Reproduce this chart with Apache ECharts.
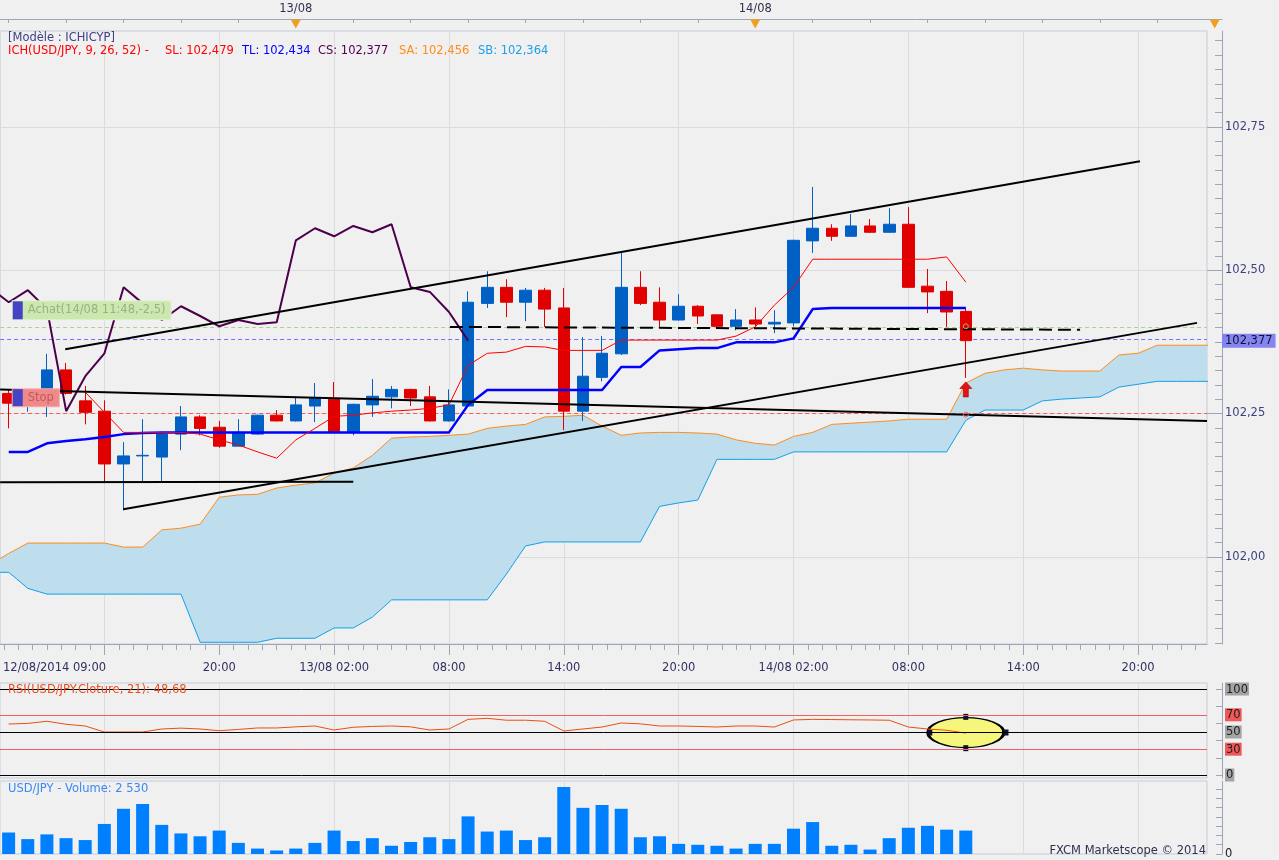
<!DOCTYPE html>
<html>
<head>
<meta charset="utf-8">
<title>USD/JPY Ichimoku</title>
<script src="https://cdn.jsdelivr.net/npm/echarts@6.0.0/dist/echarts.min.js"></script>
<style>
html, body { margin:0; padding:0; background:#f0f0f0; }
#chart { width:1279px; height:860px; }
</style>
</head>
<body>
<div id="chart"></div>
<script>
// ================= DATA =================
// hourly candles, index 0 = 12/08/2014 09:00
const candleOpen = [102.285,102.268,102.285,102.326,102.272,102.254,102.162,102.176,102.174,102.214,
 102.244,102.226,102.193,102.214,102.247,102.237,102.263,102.275,102.217,102.265,
 102.279,102.292,102.279,102.237,102.263,102.442,102.470,102.444,102.465,102.434,
 102.254,102.313,102.354,102.470,102.444,102.413,102.437,102.422,102.402,102.413,
 102.406,102.408,102.551,102.573,102.559,102.577,102.566,102.580,102.472,102.463,
 102.428];
const candleClose = [102.268,102.283,102.326,102.285,102.252,102.162,102.176,102.177,102.214,102.244,
 102.224,102.193,102.217,102.247,102.237,102.265,102.277,102.217,102.266,102.280,
 102.292,102.277,102.237,102.265,102.444,102.470,102.444,102.465,102.432,102.254,
 102.315,102.355,102.470,102.442,102.413,102.437,102.420,102.402,102.413,102.406,
 102.409,102.552,102.573,102.559,102.577,102.566,102.580,102.470,102.462,102.427,
 102.377];
const candleLow = [102.224,102.253,102.244,102.283,102.231,102.132,102.081,102.132,102.132,102.186,
 102.212,102.190,102.193,102.213,102.236,102.236,102.235,102.216,102.212,102.244,
 102.259,102.263,102.236,102.236,102.262,102.434,102.418,102.411,102.401,102.221,
 102.237,102.306,102.352,102.439,102.401,102.412,102.406,102.401,102.395,102.402,
 102.390,102.402,102.530,102.551,102.558,102.565,102.565,102.469,102.425,102.401,
 102.312];
const candleHigh = [102.291,102.290,102.354,102.338,102.298,102.273,102.200,102.240,102.216,102.263,
 102.247,102.237,102.240,102.248,102.256,102.280,102.303,102.305,102.267,102.310,
 102.298,102.293,102.298,102.292,102.463,102.498,102.484,102.469,102.469,102.469,
 102.383,102.385,102.531,102.498,102.470,102.458,102.439,102.423,102.432,102.435,
 102.430,102.553,102.645,102.580,102.598,102.589,102.608,102.610,102.502,102.481,
 102.435];

// Tenkan (SL), starts at candle index 4
const tenkanStart = 4;
const tenkan = [102.287,102.252,102.217,102.217,102.217,102.217,102.214,102.204,102.195,102.183,
 102.172,102.204,102.224,102.245,102.247,102.251,102.254,102.256,102.259,102.265,
 102.334,102.355,102.357,102.367,102.366,102.360,102.360,102.360,102.378,102.378,
 102.378,102.378,102.378,102.378,102.385,102.401,102.439,102.470,102.519,102.519,
 102.519,102.519,102.519,102.519,102.519,102.523,102.479];

// Kijun (TL)
const kijun = [102.183,102.183,102.198,102.202,102.205,102.209,102.214,102.216,102.217,102.217,
 102.217,102.217,102.217,102.217,102.217,102.217,102.217,102.217,102.217,102.217,
 102.217,102.217,102.217,102.217,102.265,102.291,102.291,102.291,102.291,102.291,
 102.291,102.291,102.331,102.331,102.360,102.362,102.364,102.364,102.374,102.374,
 102.374,102.381,102.432,102.434,102.434,102.434,102.434,102.434,102.434,102.434,
 102.434];

// Chikou (CS) = close plotted 26 periods back
const chikouShift = 26;

// Senkou spans, index -1 .. 63
const cloudStart = -1;
const senkouA = [101.986,102.006,102.024,102.024,102.024,102.024,102.024,102.017,102.017,102.047,
 102.050,102.057,102.104,102.108,102.109,102.120,102.125,102.129,102.146,102.155,
 102.177,102.207,102.209,102.210,102.212,102.214,102.224,102.228,102.231,102.244,
 102.245,102.247,102.228,102.212,102.216,102.217,102.217,102.216,102.214,102.204,
 102.198,102.195,102.210,102.217,102.231,102.233,102.235,102.237,102.240,102.240,
 102.240,102.303,102.320,102.326,102.329,102.326,102.324,102.324,102.324,102.352,
 102.355,102.369,102.369,102.369,102.369];
const senkouB = [101.973,101.973,101.945,101.935,101.935,101.935,101.935,101.935,101.935,101.935,
 101.935,101.851,101.851,101.851,101.851,101.858,101.858,101.858,101.876,101.876,
 101.895,101.925,101.925,101.925,101.925,101.925,101.925,101.970,102.019,102.026,
 102.026,102.026,102.026,102.026,102.026,102.088,102.094,102.099,102.170,102.170,
 102.170,102.170,102.183,102.183,102.183,102.183,102.183,102.183,102.183,102.183,
 102.183,102.238,102.256,102.256,102.256,102.272,102.275,102.277,102.279,102.296,
 102.301,102.306,102.306,102.306,102.306];

// RSI(21)
const rsi = [59.3,60,62.5,59,57,50,50,50,53.5,54.5,
 53.5,51.5,53,54.7,54.7,56,57,52.3,55.5,56.5,
 57,56,52.3,53.5,64.7,65.9,63.7,63.7,62.5,51.2,
 53.5,55.8,60.5,59.5,57,57,56.5,55.8,57,57,
 55.8,64,64.7,64.5,64.2,64,63.7,55.8,53.5,52,
 48.68];

// Volume
const volume = [2320,1610,2120,1710,1505,3245,4885,5400,3145,2220,
 1915,2530,1200,585,380,585,1200,2530,1400,1710,
 890,1300,1810,1610,4065,2425,2530,1505,1810,7240,
 4985,5295,4885,1810,1915,1095,995,890,585,1095,
 1095,2735,3450,890,995,480,1710,2835,3040,2630,
 2530];

// drawn levels and trend lines [candle index, price]
const buyLevel = 102.402;
const priceLevel = 102.377;
const stopLevel = 102.248;
const upperChannel = [[2.95, 102.362], [59.1, 102.690]];
const lowerChannel = [[5.98, 102.083], [62.08, 102.408]];
const decliningLine = [[-0.45, 102.292], [62.6, 102.237]];
const supportLine = [[-0.45, 102.130], [18.0, 102.131]];
const dashedLine = [[23.05, 102.401], [55.97, 102.396]];
const arrowPoint = [50, 102.292];
const ellipsePoint = [50, 49.4];

// tick labels
const priceTicks = [102.00, 102.25, 102.50, 102.75];
const timeTickIdx = [5, 11, 17, 23, 29, 35, 41, 47, 53, 59];
const timeLabelIdx = [11, 17, 23, 29, 35, 41, 47, 53, 59];
const timeLabels = ['20:00', '13/08 02:00', '08:00', '14:00', '20:00', '14/08 02:00', '08:00', '14:00', '20:00'];
const firstTimeLabel = '12/08/2014 09:00';
const dayLabelIdx = [15, 39];
const dayLabels = ['13/08', '14/08'];
const dayMarkIdx = [15, 39, 63];
const rsiLevels = [0, 30, 50, 70, 100];

// ================= CHART =================
const FONT = 'DejaVu Sans';
const X_MIN = -0.45, X_MAX = 62.6;
const X_MAX_TOP = X_MIN + 1222 * (X_MAX - X_MIN) / 1207;
const AX = '#9ca8ba';
const GRIDC = '#dcdcdc';

const idx = candleOpen.map((_, i) => i);
const candleData = idx.map(i => [i, candleOpen[i], candleClose[i], candleLow[i], candleHigh[i]]);
const tenkanData = tenkan.map((v, k) => [tenkanStart + k, v]);
const kijunData = kijun.map((v, i) => [i, v]);
const chikouData = [];
for (let i = 0; i < candleClose.length; i++) {
  if (i - chikouShift >= -1) chikouData.push([i - chikouShift, candleClose[i]]);
}
const cloudIdx = senkouA.map((_, k) => cloudStart + k);
const saData = senkouA.map((v, k) => [cloudIdx[k], v]);
const sbData = senkouB.map((v, k) => [cloudIdx[k], v]);
const rsiData = rsi.map((v, i) => [i, v]);
const volData = volume.map((v, i) => [i, v]);

const minorTime = [];
for (let v = 5 - 0.75 * 7; v <= X_MAX; v += 0.75) minorTime.push(+v.toFixed(2));
const minorPrice = [];
for (let k = 0; k <= 43; k++) minorPrice.push(+(101.85 + 0.025 * k).toFixed(3));
const topTicks = [];
for (let v = 0; v <= X_MAX_TOP; v += 3) topTicks.push(v);

const chart = echarts.init(document.getElementById('chart'));

function ttl(text, left, top, color, extra) {
  return Object.assign({ text, left, top, padding: 0,
    textStyle: { color, fontSize: 11.5, fontWeight: 'normal', fontFamily: FONT } }, extra || {});
}

const hidden = { show: false };
const noLine = { show: false, onZero: false };

const option = {
  animation: false,
  backgroundColor: '#f0f0f0',
  textStyle: { fontFamily: FONT },
  title: [
    ttl('[Modèle : ICHICYP]', 8, 32, '#404088'),
    ttl('ICH(USD/JPY, 9, 26, 52) -', 8, 45, '#ff0000'),
    ttl('SL: 102,479', 165, 45, '#ff0000'),
    ttl('TL: 102,434', 242, 45, '#0000ff'),
    ttl('CS: 102,377', 318, 45, '#500050'),
    ttl('SA: 102,456', 399, 45, '#ff8c1a'),
    ttl('SB: 102,364', 478, 45, '#1ea0e6'),
    ttl('RSI(USD/JPY.Cloture, 21): 48,68', 8, 684, '#e85020'),
    ttl('USD/JPY - Volume: 2 530', 8, 783, '#3a88f0'),
    { text: 'FXCM Marketscope © 2014', right: 73, top: 845, padding: 0,
      textStyle: { color: '#303050', fontSize: 11.5, fontWeight: 'normal', fontFamily: FONT } }
  ],
  grid: [
    { left: 0, top: 31, width: 1207, height: 613, show: true, backgroundColor: '#f0f0f0', borderColor: '#c4cdd9', borderWidth: 1 },
    { left: 0, top: 19, width: 1222, height: 12, show: false },
    { left: 0, top: 683, width: 1207, height: 95, show: true, backgroundColor: '#f0f0f0', borderColor: '#c4cdd9', borderWidth: 1 },
    { left: 0, top: 781, width: 1207, height: 77, show: true, backgroundColor: '#f0f0f0', borderColor: '#c4cdd9', borderWidth: 1 }
  ],
  xAxis: [
    { // 0 main time axis
      type: 'value', gridIndex: 0, min: X_MIN, max: X_MAX, position: 'bottom',
      axisLine: { show: true, onZero: false, lineStyle: { color: AX } },
      axisTick: { show: true, customValues: timeTickIdx, length: 11, lineStyle: { color: AX } },
      axisLabel: { show: true, customValues: timeLabelIdx, margin: 18, color: '#303060', fontSize: 11.5, fontFamily: FONT,
        formatter: v => timeLabels[timeLabelIdx.indexOf(Math.round(v))] || '' },
      splitLine: { show: true, lineStyle: { color: GRIDC, width: 1 } }
    },
    { // 1 minor ticks
      type: 'value', gridIndex: 0, min: X_MIN, max: X_MAX, position: 'bottom',
      axisLine: noLine,
      axisTick: { show: true, customValues: minorTime, length: 6, lineStyle: { color: AX } },
      axisLabel: hidden, splitLine: hidden
    },
    { // 2 first label
      type: 'value', gridIndex: 0, min: X_MIN, max: X_MAX, position: 'bottom',
      axisLine: noLine, axisTick: hidden,
      axisLabel: { show: true, customValues: [-0.3], align: 'left', margin: 18, color: '#303060', fontSize: 11.5, fontFamily: FONT,
        formatter: () => firstTimeLabel },
      splitLine: hidden
    },
    { // 3 top day strip
      type: 'value', gridIndex: 1, min: X_MIN, max: X_MAX_TOP, position: 'top',
      axisLine: { show: true, onZero: false, lineStyle: { color: AX } },
      axisTick: { show: true, inside: true, customValues: topTicks, length: 4, lineStyle: { color: AX } },
      axisLabel: { show: true, customValues: dayLabelIdx, margin: 4, color: '#303050', fontSize: 11.5, fontFamily: FONT,
        formatter: v => dayLabels[dayLabelIdx.indexOf(Math.round(v))] || '' },
      splitLine: hidden
    },
    { // 4 RSI
      type: 'value', gridIndex: 2, min: X_MIN, max: X_MAX,
      axisLine: noLine, axisTick: { show: false, customValues: timeTickIdx }, axisLabel: hidden,
      splitLine: { show: true, lineStyle: { color: GRIDC } }
    },
    { // 5 volume
      type: 'value', gridIndex: 3, min: X_MIN, max: X_MAX,
      axisLine: noLine, axisTick: { show: false, customValues: timeTickIdx }, axisLabel: hidden,
      splitLine: { show: true, lineStyle: { color: GRIDC } }
    }
  ],
  yAxis: [
    { // 0 price
      type: 'value', gridIndex: 0, min: 101.848, max: 102.917, position: 'right', offset: 15,
      axisLine: { show: true, onZero: false, lineStyle: { color: AX } },
      axisTick: { show: true, inside: true, length: 15, customValues: priceTicks, lineStyle: { color: AX } },
      axisLabel: { show: true, customValues: priceTicks, margin: 3, color: '#404080', fontSize: 11.5, fontFamily: FONT,
        formatter: v => v.toFixed(2).replace('.', ',') },
      splitLine: { show: true, lineStyle: { color: GRIDC } }
    },
    { // 1 minor price ticks
      type: 'value', gridIndex: 0, min: 101.848, max: 102.917, position: 'right', offset: 15,
      axisLine: noLine,
      axisTick: { show: true, inside: true, length: 7, customValues: minorPrice, lineStyle: { color: AX } },
      axisLabel: hidden, splitLine: hidden
    },
    { // 2 current price tag
      type: 'value', gridIndex: 0, min: 101.848, max: 102.917, position: 'right', offset: 15,
      axisLine: noLine, axisTick: hidden,
      axisLabel: { show: true, customValues: [priceLevel], margin: 0, color: '#101030', fontSize: 11.5, fontFamily: FONT,
        backgroundColor: '#8585f2', padding: [1, 3, 1, 3],
        formatter: v => v.toFixed(3).replace('.', ',') },
      splitLine: hidden
    },
    { // 3 top strip
      type: 'value', gridIndex: 1, min: 0, max: 1, show: false, axisLine: noLine
    },
    { // 4 RSI
      type: 'value', gridIndex: 2, min: -3.5, max: 107, position: 'right', offset: 15,
      axisLine: { show: true, onZero: false, lineStyle: { color: AX } },
      axisTick: { show: true, inside: true, length: 6, customValues: [0, 20, 40, 60, 80, 100], lineStyle: { color: AX } },
      axisLabel: { show: true, customValues: rsiLevels, margin: 3, color: '#202020', fontSize: 11.5, fontFamily: FONT,
        formatter: v => (v === 30 || v === 70) ? '{r|' + v + '}' : '{g|' + v + '}',
        rich: {
          r: { backgroundColor: '#f05858', padding: [1, 1, 0, 1], color: '#202020', fontSize: 11.5, fontFamily: FONT },
          g: { backgroundColor: '#a4a4a4', padding: [1, 1, 0, 1], color: '#202020', fontSize: 11.5, fontFamily: FONT }
        } },
      splitLine: hidden
    },
    { // 5 volume
      type: 'value', gridIndex: 3, min: 0, max: 7885, position: 'right', offset: 15,
      axisLine: { show: true, onZero: false, lineStyle: { color: AX } },
      axisTick: { show: true, inside: true, length: 6, customValues: [0, 1000, 2000, 3000, 4000, 5000, 6000, 7000], lineStyle: { color: AX } },
      axisLabel: { show: true, customValues: [0], margin: 3, color: '#202020', fontSize: 11.5, fontFamily: FONT },
      splitLine: hidden
    }
  ],
  series: [
    { // Kumo fill
      type: 'custom', xAxisIndex: 0, yAxisIndex: 0, z: 1, silent: true,
      data: [[0, 102.2]],
      renderItem: function (params, api) {
        const pts = [];
        for (let k = 0; k < cloudIdx.length; k++) pts.push(api.coord([cloudIdx[k], senkouA[k]]));
        for (let k = cloudIdx.length - 1; k >= 0; k--) pts.push(api.coord([cloudIdx[k], senkouB[k]]));
        const cs = params.coordSys;
        return { type: 'polygon', shape: { points: pts }, style: { fill: '#bedded' },
          clipPath: { type: 'rect', shape: { x: cs.x, y: cs.y, width: cs.width, height: cs.height } } };
      }
    },
    { name: 'SA', type: 'line', xAxisIndex: 0, yAxisIndex: 0, z: 2, data: saData, symbol: 'none', silent: true,
      lineStyle: { color: '#ff8c1a', width: 1 } },
    { name: 'SB', type: 'line', xAxisIndex: 0, yAxisIndex: 0, z: 2, data: sbData, symbol: 'none', silent: true,
      lineStyle: { color: '#12a0e8', width: 1 } },
    { name: 'USD/JPY', type: 'candlestick', xAxisIndex: 0, yAxisIndex: 0, z: 3, data: candleData, barWidth: 12, silent: true,
      itemStyle: { color: '#0060c4', color0: '#e00000', borderColor: '#0060c4', borderColor0: '#e00000', borderColorDoji: '#0060c4', borderWidth: 1 },
      markLine: { symbol: ['none', 'none'], silent: true, label: { show: false }, z: 3,
        data: [
          { yAxis: buyLevel, lineStyle: { color: '#a8d48a', type: [4, 3], width: 1 } },
          { yAxis: priceLevel, lineStyle: { color: '#7272ff', type: [4, 3], width: 1 } },
          { yAxis: stopLevel, lineStyle: { color: '#ff5a5a', type: [4, 3], width: 1 } }
        ] } },
    { name: 'TL', type: 'line', xAxisIndex: 0, yAxisIndex: 0, z: 4, data: kijunData, symbol: 'none', silent: true,
      lineStyle: { color: '#0000ff', width: 2.5 } },
    { name: 'SL', type: 'line', xAxisIndex: 0, yAxisIndex: 0, z: 4, data: tenkanData, symbol: 'none', silent: true,
      lineStyle: { color: '#ff0000', width: 1 } },
    { name: 'CS', type: 'line', xAxisIndex: 0, yAxisIndex: 0, z: 4, data: chikouData, symbol: 'none', silent: true,
      lineStyle: { color: '#4c004c', width: 2 } },
    { type: 'line', xAxisIndex: 0, yAxisIndex: 0, z: 5, data: upperChannel, symbol: 'none', silent: true, lineStyle: { color: '#000', width: 2 } },
    { type: 'line', xAxisIndex: 0, yAxisIndex: 0, z: 5, data: lowerChannel, symbol: 'none', silent: true, lineStyle: { color: '#000', width: 2 } },
    { type: 'line', xAxisIndex: 0, yAxisIndex: 0, z: 5, data: decliningLine, symbol: 'none', silent: true, lineStyle: { color: '#000', width: 2 } },
    { type: 'line', xAxisIndex: 0, yAxisIndex: 0, z: 5, data: supportLine, symbol: 'none', silent: true, lineStyle: { color: '#000', width: 2 } },
    { type: 'line', xAxisIndex: 0, yAxisIndex: 0, z: 5, data: dashedLine, symbol: 'none', silent: true, lineStyle: { color: '#000', width: 2, type: [13, 6] } },
    { // buy label
      type: 'scatter', xAxisIndex: 0, yAxisIndex: 0, z: 6, silent: true, symbolSize: 0,
      data: [[0, buyLevel]],
      itemStyle: { opacity: 1 },
      label: { show: true, position: 'right', distance: 0, offset: [4, -16], opacity: 1,
        formatter: '{sq|}{t|Achat(14/08 11:48,-2,5)}',
        backgroundColor: '#cde8ae', borderColor: '#e2f2d2', borderWidth: 1, padding: 0,
        rich: { sq: { width: 10, height: 18, backgroundColor: '#4444c4' },
          t: { color: '#98b282', fontSize: 11.5, fontFamily: FONT, padding: [0, 5, 0, 5], height: 18, lineHeight: 18 } } }
    },
    { // stop label
      type: 'scatter', xAxisIndex: 0, yAxisIndex: 0, z: 6, silent: true, symbolSize: 0,
      data: [[0, stopLevel]],
      itemStyle: { opacity: 1 },
      label: { show: true, position: 'right', distance: 0, offset: [4, -17], opacity: 1,
        formatter: '{sq|}{t|Stop}',
        backgroundColor: '#f08a8a', borderColor: '#f4b0b0', borderWidth: 1, padding: 0,
        rich: { sq: { width: 10, height: 17, backgroundColor: '#4444c4' },
          t: { color: '#c05a5a', fontSize: 11.5, fontFamily: FONT, padding: [0, 5, 0, 5], height: 17, lineHeight: 17 } } }
    },
    { // arrow
      type: 'scatter', xAxisIndex: 0, yAxisIndex: 0, z: 6, silent: true,
      data: [arrowPoint],
      symbol: 'path://M6,0L12,7L8.5,7L8.5,16L3.5,16L3.5,7L0,7Z', symbolSize: [12, 15],
      itemStyle: { color: '#e41414', borderColor: '#a00000', borderWidth: 0.6, opacity: 1 }
    },
    { // order point markers
      type: 'scatter', xAxisIndex: 0, yAxisIndex: 0, z: 6, silent: true,
      data: [[50, buyLevel]], symbol: 'circle', symbolSize: 5,
      itemStyle: { color: 'rgba(0,0,0,0)', borderColor: '#98c078', borderWidth: 1, opacity: 1 }
    },
    { type: 'scatter', xAxisIndex: 0, yAxisIndex: 0, z: 6, silent: true,
      data: [[50, stopLevel]], symbol: 'circle', symbolSize: 5,
      itemStyle: { color: 'rgba(0,0,0,0)', borderColor: '#ff6060', borderWidth: 1, opacity: 1 }
    },
    { // day markers on top strip
      type: 'scatter', xAxisIndex: 3, yAxisIndex: 3, silent: true, clip: false,
      data: dayMarkIdx.map(v => [v, 0.58]), symbol: 'triangle', symbolRotate: 180, symbolSize: [10, 9],
      itemStyle: { color: '#f0a020', opacity: 1 }
    },
    { // RSI highlight ellipse
      type: 'scatter', xAxisIndex: 4, yAxisIndex: 4, z: 1, silent: true,
      data: [ellipsePoint], symbol: 'circle', symbolSize: [76, 30],
      itemStyle: { color: '#f6f67c', borderColor: '#000', borderWidth: 2, opacity: 1 }
    },
    { type: 'scatter', xAxisIndex: 4, yAxisIndex: 4, z: 2, silent: true,
      data: [[50, 67.6], [50, 31.2], [48.12, 49.4], [52.1, 49.4]], symbol: 'rect', symbolSize: [5, 6],
      itemStyle: { color: '#101030', opacity: 1 }
    },
    { name: 'RSI', type: 'line', xAxisIndex: 4, yAxisIndex: 4, z: 3, data: rsiData, symbol: 'none', silent: true,
      lineStyle: { color: '#e85010', width: 1 },
      markLine: { symbol: ['none', 'none'], silent: true, label: { show: false },
        lineStyle: { color: '#000', width: 1, type: 'solid' },
        data: [
          { yAxis: 100 },
          { yAxis: 70, lineStyle: { color: '#f06060', type: 'solid', width: 1 } },
          { yAxis: 50 },
          { yAxis: 30, lineStyle: { color: '#f06060', type: 'solid', width: 1 } },
          { yAxis: 0 }
        ] } },
    { name: 'Volume', type: 'bar', xAxisIndex: 5, yAxisIndex: 5, data: volData, barWidth: 13, silent: true,
      itemStyle: { color: '#0080ff' } }
  ]
};

chart.setOption(option);
</script>
</body>
</html>
